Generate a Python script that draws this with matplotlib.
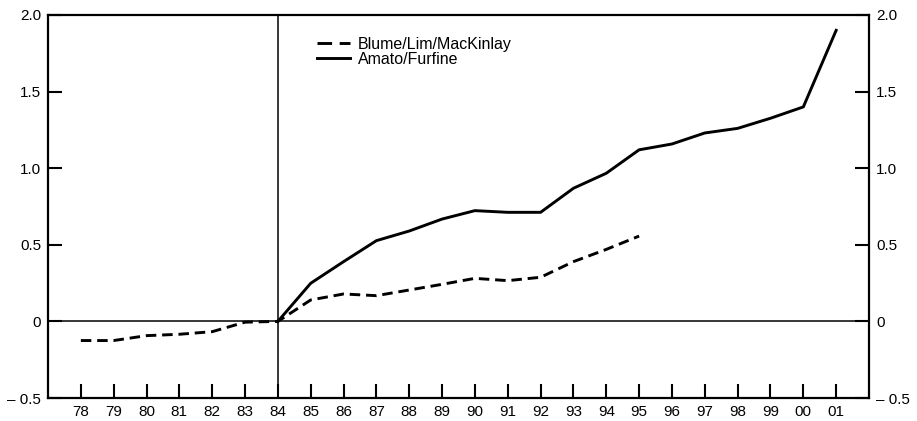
import matplotlib
matplotlib.use("Agg")
import matplotlib.pyplot as plt
import numpy as np

years = ["78", "79", "80", "81", "82", "83", "84", "85", "86", "87", "88", "89",
         "90", "91", "92", "93", "94", "95", "96", "97", "98", "99", "00", "01"]

blume_years = ["78", "79", "80", "81", "82", "83", "84", "85", "86", "87", "88",
               "89", "90", "91", "92", "93", "94", "95"]
blume = [-0.125, -0.125, -0.093, -0.084, -0.067, -0.005, 0.0, 0.14, 0.179, 0.168,
         0.205, 0.242, 0.281, 0.266, 0.288, 0.39, 0.47, 0.557]

amato_years = ["84", "85", "86", "87", "88", "89", "90", "91", "92", "93", "94",
               "95", "96", "97", "98", "99", "00", "01"]
amato = [0.0, 0.249, 0.39, 0.527, 0.59, 0.668, 0.723, 0.712, 0.712, 0.869, 0.967,
         1.12, 1.158, 1.23, 1.26, 1.326, 1.40, 1.90]

ytick_vals = [-0.5, 0, 0.5, 1.0, 1.5, 2.0]
ytick_labels = ["\u2013 0.5", "0", "0.5", "1.0", "1.5", "2.0"]

plt.rcParams['font.family'] = ['Liberation Sans', 'DejaVu Sans']

fig = plt.figure(figsize=(9.17, 4.21), dpi=100)
ax = fig.add_axes([48/917, 23/421, 821/917, 383/421])

pos = {y: i for i, y in enumerate(years)}
bx = [pos[y] for y in blume_years]
axx = [pos[y] for y in amato_years]

ax.axhline(0, color='black', lw=1.1, zorder=1)
ax.axvline(pos["84"], color='black', lw=1.1, zorder=1)

ax.plot(bx, blume, color='black', lw=2.1, dashes=(3.6, 2.0),
        label="Blume/Lim/MacKinlay", zorder=3)
ax.plot(axx, amato, color='black', lw=2.1, label="Amato/Furfine", zorder=3)

ax.set_xlim(-1, len(years))
ax.set_ylim(-0.5, 2.0)
ax.set_xticks(range(len(years)))
ax.set_xticklabels(years)
ax.set_yticks(ytick_vals)
ax.set_yticklabels(ytick_labels)

ax.tick_params(axis='x', direction='in', length=10, width=1.5, labelsize=11, pad=5)
ax.tick_params(axis='y', direction='in', length=10, width=1.5, labelsize=11,
               left=True, right=True, labelleft=True, labelright=True, pad=5)
for s in ax.spines.values():
    s.set_linewidth(1.6)

leg = ax.legend(loc='upper left', bbox_to_anchor=(0.301, 1.0), frameon=False,
                fontsize=11.5, handlelength=2.1, handletextpad=0.5,
                labelspacing=0.0, borderaxespad=0.95)
leg.get_lines()[0].set_dashes((5.0, 2.6))

fig.savefig("out.png", dpi=100)
